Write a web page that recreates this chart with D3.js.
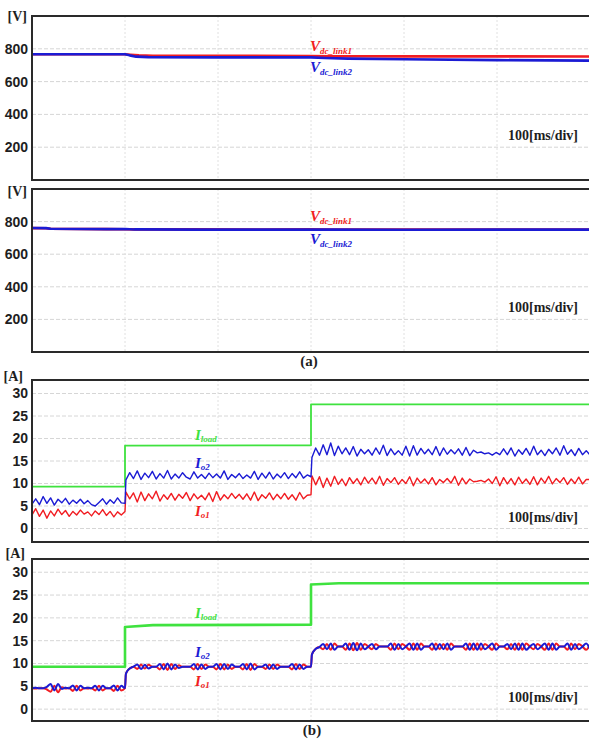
<!DOCTYPE html>
<html>
<head>
<meta charset="utf-8">
<script src="https://cdn.jsdelivr.net/npm/d3@7"></script>
<style>
  html,body{margin:0;padding:0;background:#fff}
  svg{display:block;font-family:"Liberation Serif","Times New Roman",serif;font-weight:bold}
  .tick text{font-size:14px;fill:#1e1e1e}
  .grid line{stroke:#d6d6d6;stroke-width:1;stroke-dasharray:4,2}
  .vgrid line{stroke:#e0e0e0;stroke-dasharray:2,2}
</style>
</head>
<body>
<svg id="chart" width="589" height="739"></svg>
<script>
// values (time in ms, 100 ms/div)
const timeGrid = [100, 200, 300, 400, 500, 600]
const voltTicks = [200, 400, 600, 800, 1000]
const voltLabels = [200, 400, 600, 800]
const ampTicks = [0, 5, 10, 15, 20, 25, 30]

// (a) upper: dc link voltages
const tA1Red = [0, 100, 106, 115, 130, 200, 300, 320, 400, 500, 600]
const vA1Red = [767, 767, 764, 760, 758, 757, 756, 755, 754, 754, 753]
const tA1Blue = [0, 100, 105, 112, 125, 200, 300, 315, 340, 400, 500, 600]
const vA1Blue = [767, 767, 760, 752, 749, 748, 748, 744, 740, 736, 731, 728]
// (a) lower
const tA2 = [0, 15, 20, 80, 100, 110, 180, 250, 300, 320, 400, 500, 600]
const vA2Red = [760, 759, 756, 754, 753, 752, 752, 751, 752, 751, 751, 751, 752]
const vA2Blue = [761, 760, 756, 754, 755, 752, 751, 751, 751, 751, 750, 751, 751]

// load steps
const segStart = [0, 100, 300]
const segEnd = [100, 300, 600]
const tLoadB1 = [0, 100, 100, 300, 300, 600]
const loadB1 = [9.3, 9.3, 18.4, 18.5, 27.6, 27.6]
const tLoadB2 = [0, 100, 100, 130, 300, 300, 330, 600]
const loadB2 = [9.3, 9.3, 18.0, 18.4, 18.5, 27.3, 27.6, 27.6]

// (b) upper: module currents, one array per load segment
const io2B1 = [
  [5.4, 6.6, 5.3, 7.1, 5.6, 6.8, 5.2, 6.5, 5.7, 6.7, 5.4, 6.3, 5.6, 6.5, 5.5, 6.2, 5.3, 5.0, 5.8, 6.6, 5.4, 6.4, 5.6, 6.8, 5.7, 5.6],
  [10.8, 12.4, 11.1, 12.8, 10.9, 12.3, 11.3, 12.7, 11.0, 12.2, 11.2, 12.9, 11.0, 12.1, 11.2, 12.4, 11.4, 11.0, 12.6, 11.2, 12.0, 11.1, 12.3, 11.3, 12.1, 11.2, 12.8, 10.9, 12.0, 11.3, 12.2, 11.1, 11.9, 11.2, 12.7, 10.9, 12.3, 11.2, 12.5, 11.0, 12.1, 11.3, 12.4, 11.1, 12.2, 11.3, 12.6, 11.2, 11.9, 11.5],
  [15.8, 17.9, 16.3, 18.6, 16.4, 19.0, 16.2, 18.3, 16.6, 17.9, 16.4, 18.2, 16.1, 17.6, 16.6, 17.5, 16.3, 17.9, 16.5, 18.5, 16.2, 17.7, 16.4, 17.3, 16.3, 18.3, 16.1, 18.4, 16.3, 17.8, 16.6, 17.6, 16.4, 18.2, 16.2, 17.9, 16.5, 17.5, 16.6, 17.7, 16.3, 18.0, 16.2, 17.4, 16.8, 17.0, 16.6, 16.8, 16.3, 16.9, 16.4, 17.7, 16.4, 17.9, 16.1, 17.5, 16.5, 17.8, 16.3, 18.3, 16.4, 17.4, 16.2, 17.6, 16.6, 17.9, 16.3, 18.4, 16.5, 17.5, 16.2, 17.8, 16.4, 17.3, 16.3]
]
const io1B1 = [
  [3.0, 4.4, 2.7, 4.1, 2.3, 3.9, 2.8, 4.3, 3.1, 4.0, 2.7, 3.8, 3.0, 4.1, 3.2, 3.7, 2.8, 3.9, 3.1, 4.2, 2.9, 3.8, 2.6, 3.7, 3.0, 3.8],
  [8.1, 6.6, 7.9, 5.9, 8.1, 6.2, 7.7, 6.6, 8.3, 6.1, 7.5, 6.5, 7.8, 6.3, 7.6, 6.7, 8.0, 6.2, 7.7, 6.6, 7.4, 6.4, 7.9, 6.0, 8.2, 6.3, 7.5, 6.6, 7.8, 6.7, 7.6, 6.5, 7.7, 6.3, 8.1, 6.2, 7.5, 6.7, 7.9, 6.4, 7.6, 6.6, 7.8, 6.5, 7.5, 6.3, 8.0, 6.6, 7.4, 7.5],
  [11.7, 9.7, 11.5, 9.1, 11.2, 9.4, 11.6, 9.8, 11.0, 9.5, 11.3, 10.0, 11.1, 9.7, 11.4, 10.1, 11.2, 9.9, 11.6, 9.6, 11.1, 10.2, 11.3, 9.8, 10.9, 10.0, 11.5, 9.5, 11.2, 10.1, 11.0, 9.9, 11.3, 9.7, 10.9, 10.2, 11.1, 10.1, 11.6, 9.6, 11.2, 9.9, 11.0, 10.4, 10.5, 10.7, 10.3, 11.0, 10.0, 11.5, 9.5, 11.3, 9.9, 11.1, 9.7, 11.4, 10.0, 11.0, 9.8, 11.5, 9.7, 11.2, 10.1, 11.6, 9.9, 11.1, 10.2, 11.3, 9.8, 11.0, 10.0, 11.4, 9.9, 10.9, 10.9]
]

// (b) lower: shared currents, ripples in antiphase
const io2B2 = [
  [4.6, 4.7, 4.6, 4.6, 4.9, 5.5, 4.1, 5.5, 4.4, 4.7, 4.6, 5.2, 4.1, 5.1, 4.6, 4.7, 4.6, 5.1, 4.1, 5.1, 4.6, 4.6, 5.2, 4.1, 5.1, 4.6],
  [7.8, 8.9, 9.3, 9.8, 8.8, 9.7, 8.9, 9.3, 9.3, 9.9, 8.7, 10.0, 8.7, 9.8, 9.0, 9.3, 9.3, 9.3, 9.9, 8.7, 9.8, 8.8, 9.3, 9.3, 9.9, 8.7, 9.9, 8.8, 9.8, 9.3, 9.3, 9.9, 8.7, 10.0, 8.7, 9.3, 9.3, 9.8, 8.8, 9.8, 8.8, 9.3, 9.3, 9.3, 9.9, 8.7, 9.8, 8.8, 9.3, 9.3],
  [12.0, 13.2, 13.6, 14.3, 13.1, 14.4, 13.0, 13.7, 13.7, 14.4, 13.0, 14.5, 12.9, 14.4, 13.1, 13.7, 14.3, 13.1, 13.7, 13.7, 13.7, 14.4, 13.0, 14.3, 13.1, 13.7, 14.4, 13.0, 14.4, 13.0, 13.7, 13.7, 14.4, 13.0, 14.3, 13.1, 14.4, 13.0, 13.7, 13.7, 13.7, 14.4, 13.0, 14.4, 13.0, 14.4, 13.1, 13.7, 14.4, 13.0, 13.7, 13.7, 14.3, 13.1, 14.4, 13.0, 14.4, 13.0, 13.7, 14.3, 13.1, 13.7, 14.4, 13.0, 14.4, 13.0, 13.7, 13.7, 14.4, 13.0, 14.3, 13.1, 13.7, 14.4, 13.1]
]
const io1B2 = [
  [4.6, 4.5, 4.6, 4.6, 4.3, 3.8, 5.1, 3.7, 4.8, 4.5, 4.6, 4.0, 5.1, 4.1, 4.6, 4.5, 4.6, 4.1, 5.1, 4.1, 4.6, 4.6, 4.0, 5.1, 4.1, 4.6],
  [7.8, 8.9, 9.3, 8.8, 9.8, 8.9, 9.7, 9.3, 9.3, 8.7, 9.9, 8.6, 9.9, 8.8, 9.6, 9.3, 9.3, 9.3, 8.7, 9.9, 8.8, 9.8, 9.3, 9.3, 8.7, 9.9, 8.7, 9.8, 8.8, 9.3, 9.3, 8.7, 9.9, 8.6, 9.9, 9.3, 9.3, 8.8, 9.8, 8.8, 9.8, 9.3, 9.3, 9.3, 8.7, 9.9, 8.8, 9.8, 9.3, 9.3],
  [12.0, 13.2, 13.6, 13.1, 14.3, 13.0, 14.4, 13.7, 13.7, 13.0, 14.4, 12.9, 14.5, 13.0, 14.3, 13.7, 13.1, 14.3, 13.7, 13.7, 13.7, 13.0, 14.4, 13.1, 14.3, 13.7, 13.0, 14.4, 13.0, 14.4, 13.7, 13.7, 13.0, 14.4, 13.1, 14.3, 13.0, 14.4, 13.7, 13.7, 13.7, 13.0, 14.4, 13.0, 14.4, 13.0, 14.3, 13.7, 13.0, 14.4, 13.7, 13.7, 13.1, 14.3, 13.0, 14.4, 13.0, 14.4, 13.7, 13.1, 14.3, 13.7, 13.0, 14.4, 13.0, 14.4, 13.7, 13.7, 13.0, 14.4, 13.1, 14.3, 13.7, 13.0, 14.3]
]

const RED = '#f11d22', BLUE = '#1b1bd4', GREEN = '#3fe23f'

;(function(){
  const W = 589, X0 = 32
  const svg = d3.select('#chart')
  const x = d3.scaleLinear().domain([0, 600]).range([X0, 590])

  const pairs = (ts, vs) => ts.map((t, i) => [t, vs[i]])
  // spread each segment's samples over its time span
  const sampled = segs => segs.flatMap((vals, k) => {
    const t0 = k ? segStart[k] + 1 : segStart[k], t1 = segEnd[k]
    return vals.map((v, i) => [t0 + i * (t1 - t0) / (vals.length - 1), v])
  })

  const panels = [
    {id:'a1', top:16, bottom:180, domain:[0, 1000], ticks:voltTicks, labels:voltLabels, unit:'[V]', unitX:27, unitY:21, noteY:139.5},
    {id:'a2', top:189, bottom:352, domain:[0, 1000], ticks:voltTicks, labels:voltLabels, unit:'[V]', unitX:27, unitY:196, noteY:311.5},
    {id:'b1', top:380, bottom:542, domain:[-3, 33], ticks:ampTicks, labels:ampTicks, unit:'[A]', unitX:23, unitY:381, noteY:522},
    {id:'b2', top:559, bottom:721, domain:[-2.6, 32.9], ticks:ampTicks, labels:ampTicks, unit:'[A]', unitX:25, unitY:558, noteY:701.5}
  ]

  const ys = {}
  panels.forEach(p => {
    const y = d3.scaleLinear().domain(p.domain).range([p.bottom, p.top])
    ys[p.id] = y
    const g = svg.append('g').attr('id', p.id)
    g.append('clipPath').attr('id', 'clip-' + p.id).append('rect')
      .attr('x', X0).attr('y', p.top).attr('width', W - X0).attr('height', p.bottom - p.top)
    g.append('g').attr('class', 'grid').selectAll('line').data(p.ticks).enter().append('line')
      .attr('x1', X0).attr('x2', W).attr('y1', d => y(d)).attr('y2', d => y(d))
    g.append('g').attr('class', 'grid vgrid').selectAll('line').data(timeGrid).enter().append('line')
      .attr('x1', d => x(d)).attr('x2', d => x(d)).attr('y1', p.top).attr('y2', p.bottom)
    g.append('g').attr('transform', `translate(${X0},0)`)
      .call(d3.axisLeft(y).tickValues(p.labels).tickSize(0).tickPadding(4))
      .call(a => a.select('.domain').remove())
    g.append('g').attr('class', 'traces').attr('clip-path', `url(#clip-${p.id})`)
    g.append('text').attr('x', p.unitX).attr('y', p.unitY).attr('text-anchor', 'end')
      .attr('font-size', 14).attr('fill', '#1e1e1e').text(p.unit)
    g.append('text').attr('x', 578).attr('y', p.noteY).attr('text-anchor', 'end')
      .attr('font-size', 14).attr('fill', '#1e1e1e').text('100[ms/div]')
    g.append('rect').attr('x', X0).attr('y', p.top).attr('width', W + 20 - X0).attr('height', p.bottom - p.top)
      .attr('fill', 'none').attr('stroke', '#2a2a2a').attr('stroke-width', 2)
  })

  function trace(id, pts, color, width, curve){
    const y = ys[id]
    const line = d3.line().x(d => x(d[0])).y(d => y(d[1])).curve(curve || d3.curveLinear)
    svg.select('#' + id + ' .traces').append('path').datum(pts)
      .attr('d', line).attr('fill', 'none').attr('stroke', color)
      .attr('stroke-width', width).attr('stroke-linejoin', 'round')
  }

  trace('a1', pairs(tA1Red, vA1Red), RED, 2.6)
  trace('a1', pairs(tA1Blue, vA1Blue), BLUE, 2.6)
  trace('a2', pairs(tA2, vA2Red), RED, 2.6)
  trace('a2', pairs(tA2, vA2Blue), BLUE, 2.6)

  trace('b1', pairs(tLoadB1, loadB1), GREEN, 1.8)
  trace('b1', sampled(io1B1), RED, 1.4)
  trace('b1', sampled(io2B1), BLUE, 1.4)

  trace('b2', pairs(tLoadB2, loadB2), GREEN, 2.6)
  trace('b2', sampled(io1B2), RED, 2, d3.curveMonotoneX)
  trace('b2', sampled(io2B2), BLUE, 2, d3.curveMonotoneX)

  // signal names
  const names = [
    {main:'V', sub:'dc_link1', x:310, y:51, dy:3, color:RED},
    {main:'V', sub:'dc_link2', x:310, y:72, dy:3, color:BLUE},
    {main:'V', sub:'dc_link1', x:310, y:221, dy:3, color:RED},
    {main:'V', sub:'dc_link2', x:310, y:244, dy:3, color:BLUE},
    {main:'I', sub:'load', x:195, y:440, dy:2, color:GREEN},
    {main:'I', sub:'o2', x:195, y:468, dy:2, color:BLUE},
    {main:'I', sub:'o1', x:195, y:516, dy:2, color:RED},
    {main:'I', sub:'load', x:195, y:618, dy:2, color:GREEN},
    {main:'I', sub:'o2', x:195, y:657, dy:2, color:BLUE},
    {main:'I', sub:'o1', x:195, y:686, dy:2, color:RED}
  ]
  const lbl = svg.append('g').selectAll('text').data(names).enter().append('text')
    .attr('x', d => d.x).attr('y', d => d.y).attr('fill', d => d.color).attr('font-style', 'italic')
  lbl.append('tspan').attr('font-size', 15).text(d => d.main)
  lbl.append('tspan').attr('font-size', 9).attr('dy', d => d.dy).text(d => d.sub)

  svg.append('text').attr('x', 309).attr('y', 366).attr('text-anchor', 'middle')
    .attr('font-size', 15).attr('fill', '#1e1e1e').text('(a)')
  svg.append('text').attr('x', 312).attr('y', 735).attr('text-anchor', 'middle')
    .attr('font-size', 15).attr('fill', '#1e1e1e').text('(b)')
})()
</script>
</body>
</html>
